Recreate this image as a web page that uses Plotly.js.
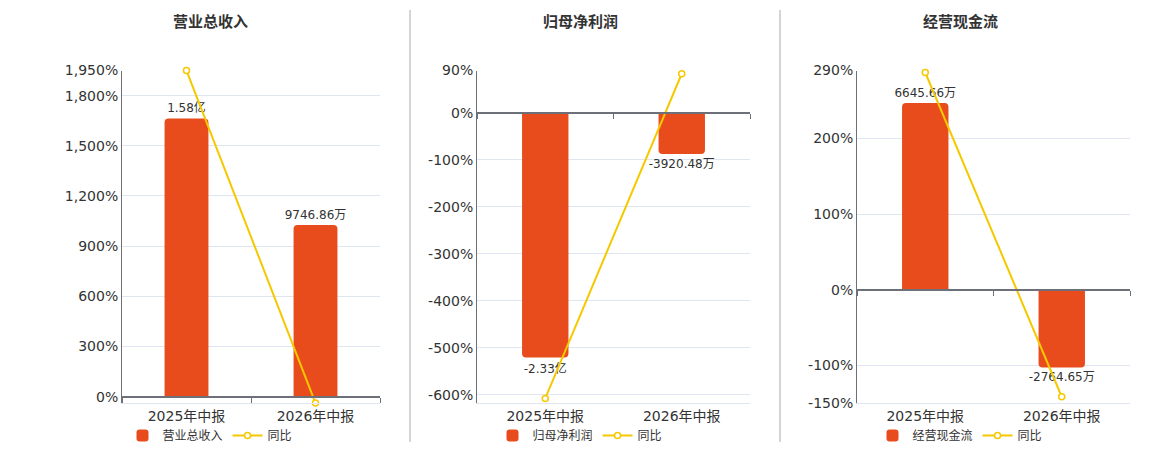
<!DOCTYPE html>
<html>
<head>
<meta charset="utf-8">
<script src="https://cdn.plot.ly/plotly-3.0.1.min.js"></script>
<style>html,body{margin:0;padding:0;background:#fff;}#chart{width:1160px;height:450px;}</style>
</head>
<body>
<div id="chart"></div>
<script>
// ---- data ----
const categories = ["2025年中报", "2026年中报"];
const panelTitles = ["营业总收入", "归母净利润", "经营现金流"];
const revenueValues = [1.58e8, 9746.86e4];
const revenueLabels = ["1.58亿", "9746.86万"];
const revenueYoY = [1950, -38.3];
const profitValues = [-2.33e8, -3920.48e4];
const profitLabels = ["-2.33亿", "-3920.48万"];
const profitYoY = [-607.6, 83.2];
const cashValues = [6645.66e4, -2764.65e4];
const cashLabels = ["6645.66万", "-2764.65万"];
const cashYoY = [287.4, -141.6];
const yoyName = "同比";
const tickValsP1 = [0, 300, 600, 900, 1200, 1500, 1800, 1950];
const tickValsP2 = [-600, -500, -400, -300, -200, -100, 0, 90];
const tickValsP3 = [-150, -100, 0, 100, 200, 290];

// ---- style ----
const FONT = '"DejaVu Sans", "Noto Sans CJK SC", sans-serif';
const BAR = '#E84C1D';
const LINE = '#F5C800';
const GRID = '#E0E6F1';
const AXIS = '#6E7079';
const TXT = '#333333';
const W = 1160, H = 450;
const yDom = [1 - 404 / H, 1 - 70.7 / H];
const xDoms = [[122 / W, 380 / W], [477 / W, 750 / W], [857 / W, 1130 / W]];
const centers = [210 / W, 580 / W, 960 / W];

const pctText = (v) => v.toLocaleString('en-US') + '%';

const panels = [
  {vals: revenueValues, labels: revenueLabels, yoy: revenueYoY, ticks: tickValsP1, range: [-38.3, 1950], scale: 94970},
  {vals: profitValues, labels: profitLabels, yoy: profitYoY, ticks: tickValsP2, range: [-617.6, 90], scale: 447474},
  {vals: cashValues, labels: cashLabels, yoy: cashYoY, ticks: tickValsP3, range: [-150, 290], scale: 269050}
];

const traces = [];
const layout = {
  width: W, height: H,
  margin: {l: 0, r: 0, t: 0, b: 0},
  paper_bgcolor: '#fff', plot_bgcolor: 'rgba(0,0,0,0)',
  font: {family: FONT, color: TXT, size: 12},
  showlegend: true,
  annotations: [],
  shapes: [
    {type: 'line', xref: 'paper', yref: 'paper', x0: 410 / W, x1: 410 / W, y0: 1 - 443 / H, y1: 1 - 10 / H, line: {color: '#AAAAAA', width: 1}},
    {type: 'line', xref: 'paper', yref: 'paper', x0: 780 / W, x1: 780 / W, y0: 1 - 443 / H, y1: 1 - 10 / H, line: {color: '#AAAAAA', width: 1}}
  ]
};

panels.forEach((p, i) => {
  const xa = 'x' + (i === 0 ? '' : i + 1);          // main category axis
  const xz = 'x' + (i + 4);                          // zero-line axis
  const yb = 'y' + (i === 0 ? '' : 2 * i + 1);       // bars (hidden)
  const yl = 'y' + (2 * i + 2);                      // percent line axis
  const legendId = 'legend' + (i === 0 ? '' : i + 1);
  const lk = (s) => s.replace(/^x/, 'xaxis').replace(/^y/, 'yaxis');

  traces.push({
    type: 'bar', x: categories, y: p.vals, name: panelTitles[i],
    xaxis: xa, yaxis: yb, legend: legendId,
    marker: {color: BAR, cornerradius: 4},
    width: 0.34,
    text: p.labels, textposition: 'outside', cliponaxis: false, constraintext: 'none',
    textfont: {size: 12, color: TXT, family: FONT},
    hoverinfo: 'skip'
  });
  traces.push({
    type: 'scatter', mode: 'lines+markers', x: categories, y: p.yoy, name: yoyName,
    xaxis: xa, yaxis: yl, legend: legendId, cliponaxis: false,
    line: {color: LINE, width: 2},
    marker: {symbol: 'circle', size: 6, color: '#fff', line: {color: LINE, width: 1.5}},
    hoverinfo: 'skip'
  });
  traces.push({
    type: 'scatter', mode: 'none', x: categories, y: [0, 0],
    xaxis: xz, yaxis: yl, showlegend: false, hoverinfo: 'skip'
  });

  const zeroPos = yDom[0] + (0 - p.range[0]) / (p.range[1] - p.range[0]) * (yDom[1] - yDom[0]);

  layout[lk(xa)] = {
    domain: xDoms[i], anchor: yb, type: 'category',
    showline: true, linecolor: GRID, linewidth: 1,
    ticks: '', showgrid: false, zeroline: false,
    tickfont: {size: 14, color: TXT, family: FONT}, fixedrange: true
  };
  layout[lk(xz)] = {
    overlaying: xa, anchor: 'free', position: zeroPos, type: 'category',
    range: [-0.5, 1.5], tickson: 'boundaries', ticks: 'outside', ticklen: 5,
    tickcolor: AXIS, tickwidth: 1, showticklabels: false,
    showline: true, linecolor: AXIS, linewidth: 2, showgrid: false, zeroline: false
  };
  layout[lk(yb)] = {
    domain: yDom, anchor: xa, visible: false,
    range: p.range.map(v => v * p.scale), fixedrange: true
  };
  layout[lk(yl)] = {
    overlaying: yb, anchor: xa, side: 'left', range: p.range,
    tickmode: 'array', tickvals: p.ticks, ticktext: p.ticks.map(pctText),
    showgrid: true, gridcolor: GRID, gridwidth: 1, zeroline: false,
    showline: true, linecolor: AXIS, linewidth: 1, ticks: '',
    tickfont: {size: 14, color: TXT, family: FONT}, fixedrange: true
  };
  layout[legendId] = {
    orientation: 'h', x: centers[i], xanchor: 'center', y: 1 - 436 / H, yanchor: 'middle',
    font: {size: 12, color: TXT, family: FONT}, bgcolor: 'rgba(0,0,0,0)',
    itemwidth: 30, tracegroupgap: 0
  };
  layout.annotations.push({
    text: '<b>' + panelTitles[i] + '</b>', xref: 'paper', yref: 'paper',
    x: centers[i], y: 1 - 22 / H, xanchor: 'center', yanchor: 'middle',
    showarrow: false, font: {size: 15, color: TXT, family: FONT}
  });
});

Plotly.newPlot('chart', traces, layout, {displayModeBar: false, staticPlot: true});
</script>
</body>
</html>
